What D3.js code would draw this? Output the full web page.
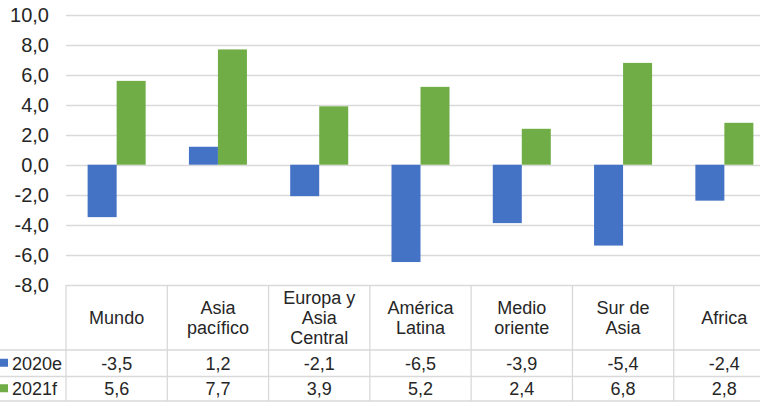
<!DOCTYPE html>
<html>
<head>
<meta charset="utf-8">
<script src="https://d3js.org/d3.v7.min.js"></script>
<style>
  body { margin: 0; background: #fff; }
  svg { display: block; font-family: "Liberation Sans", Arial, sans-serif; }
</style>
</head>
<body>
<div id="chart"></div>
<script>
// datos
const regiones = [["Mundo"], ["Asia", "pacífico"], ["Europa y", "Asia", "Central"], ["América", "Latina"], ["Medio", "oriente"], ["Sur de", "Asia"], ["Africa"]];
const series = ["2020e", "2021f"];
const v2020 = [-3.5, 1.2, -2.1, -6.5, -3.9, -5.4, -2.4];
const v2021 = [5.6, 7.7, 3.9, 5.2, 2.4, 6.8, 2.8];
const ticks = [-8, -6, -4, -2, 0, 2, 4, 6, 8, 10];
const colores = ["#4472C4", "#70AD47"];

const W = 760, H = 403;
const left = 66, right = 775;
const texto = "#262626";
const fmt = v => d3.format(".1f")(v).replace(".", ",").replace("−", "-");

const svg = d3.select("#chart").append("svg").attr("width", W).attr("height", H);

const keys = regiones.map((d, i) => i);
const x = d3.scaleBand().domain(keys).range([left, right]);
const x1 = d3.scaleBand().domain(series).range([0, x.bandwidth()]).paddingOuter(0.746);
const y = d3.scaleLinear().domain([-8, 10]).range([284.5, 15]);

// lineas de cuadricula
svg.append("g").selectAll("line").data(ticks).join("line")
  .attr("x1", left).attr("x2", right)
  .attr("y1", d => Math.round(y(d)) + 0.5).attr("y2", d => Math.round(y(d)) + 0.5)
  .attr("stroke", "#d9d9d9").attr("stroke-width", 1.3);

// etiquetas del eje
svg.append("g").selectAll("text").data(ticks).join("text")
  .attr("x", 49).attr("y", d => y(d) + 7)
  .attr("text-anchor", "end").attr("font-size", 20).attr("fill", texto)
  .text(d => fmt(d));

// barras
const datos = [v2020, v2021];
series.forEach((s, si) => {
  svg.append("g").selectAll("rect").data(datos[si]).join("rect")
    .attr("x", (d, i) => x(i) + x1(s))
    .attr("width", x1.bandwidth())
    .attr("y", d => y(Math.max(0, d)))
    .attr("height", d => Math.abs(y(d) - y(0)))
    .attr("fill", colores[si]);
});

// tabla de datos
const rowTop = 285, rowHead = 350, row1 = 376.5, rowBot = 401;
const tabla = svg.append("g").attr("stroke", "#d9d9d9").attr("stroke-width", 1.3);
keys.concat([keys.length]).forEach(i => {
  const xx = i < keys.length ? x(i) : right;
  tabla.append("line").attr("x1", xx).attr("x2", xx).attr("y1", rowTop).attr("y2", rowBot);
});
[rowHead, row1, rowBot].forEach(yy => {
  tabla.append("line").attr("x1", 0).attr("x2", right).attr("y1", yy).attr("y2", yy);
});

// encabezados
const head = svg.append("g").attr("font-size", 18).attr("fill", texto).attr("text-anchor", "middle");
regiones.forEach((lines, i) => {
  const cx = x(i) + x.bandwidth() / 2;
  const lh = 20;
  const y0 = (rowTop + rowHead) / 2 - (lines.length - 1) * lh / 2 + 6.5;
  const t = head.append("text");
  lines.forEach((l, k) => t.append("tspan").attr("x", cx).attr("y", y0 + k * lh).text(l));
});

// filas de valores
const filas = [[v2020, (rowHead + row1) / 2], [v2021, (row1 + rowBot) / 2]];
filas.forEach(([vals, cy], si) => {
  svg.append("g").selectAll("text").data(vals).join("text")
    .attr("x", (d, i) => x(i) + x.bandwidth() / 2).attr("y", cy + 6.5)
    .attr("text-anchor", "middle").attr("font-size", 18).attr("fill", texto)
    .text(d => fmt(d));
  svg.append("rect").attr("x", 0).attr("y", cy - 4.5).attr("width", 8).attr("height", 8).attr("fill", colores[si]);
  svg.append("text").attr("x", 12).attr("y", cy + 6.5).attr("font-size", 18).attr("fill", texto).text(series[si]);
});
</script>
</body>
</html>
